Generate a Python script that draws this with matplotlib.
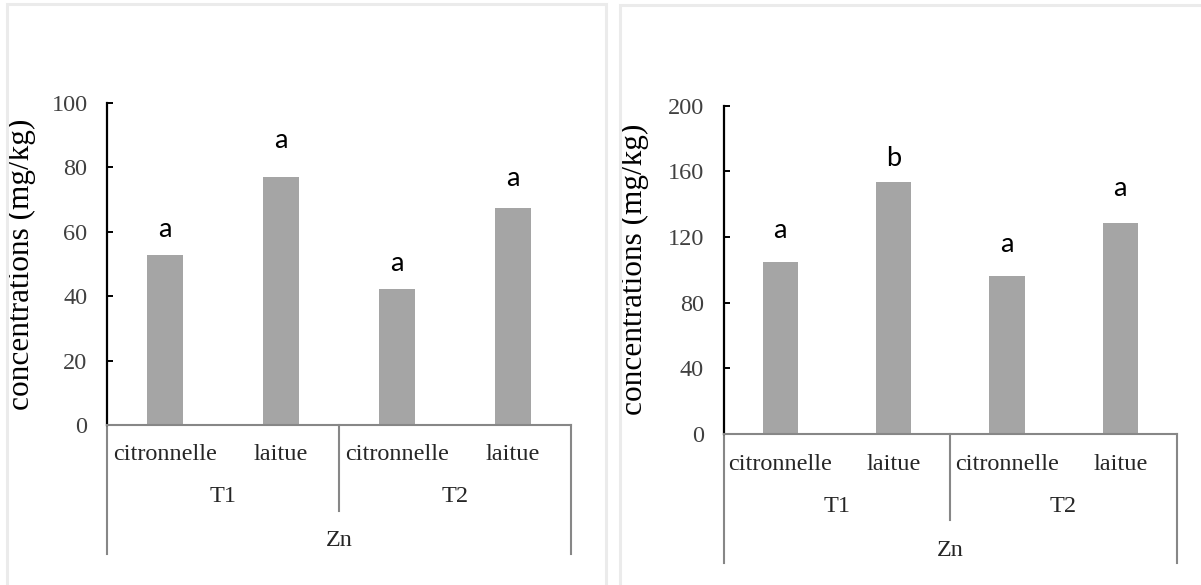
import matplotlib.pyplot as plt
from matplotlib.patches import Rectangle
import matplotlib.transforms as mtransforms

# data
plants = ['citronnelle', 'laitue', 'citronnelle', 'laitue']
treatments = ['T1', 'T2']
metal = 'Zn'

left_values = [52.7, 76.9, 42.3, 67.4]
left_letters = ['a', 'a', 'a', 'a']
left_letter_y = [60.8, 88.5, 50.3, 76.4]
left_ticks = [0, 20, 40, 60, 80, 100]

right_values = [105.0, 153.3, 96.4, 128.6]
right_letters = ['a', 'b', 'a', 'a']
right_letter_y = [123.6, 167.8, 115.6, 149.7]
right_ticks = [0, 40, 80, 120, 160, 200]

W, H = 1201, 585
fig = plt.figure(figsize=(W / 100, H / 100), dpi=100)
fig.patch.set_facecolor('white')

serif = 'Liberation Serif'
sans = ['Lato', 'DejaVu Sans']
grey = '#878787'

# light frames around each chart
for x0, y0, x1 in [(7, 4, 606), (620, 5, 1215)]:
    fig.add_artist(Rectangle((x0 / W, 0 - 0.01), (x1 - x0) / W, 1 - y0 / H + 0.01,
                             transform=fig.transFigure, fill=False,
                             edgecolor='#ebebeb', lw=2.2))


def draw_panel(box, values, letters, letter_y, ticks):
    # box in pixels: left, top, right, bottom (zero line)
    l, t, r, b = box
    ax = fig.add_axes([l / W, 1 - b / H, (r - l) / W, (b - t) / H])
    axh = b - t
    n = len(values)
    x = list(range(n))
    ax.bar(x, values, width=0.31, color='#a5a5a5', zorder=2)
    ax.set_xlim(-0.5, n - 0.5)
    ax.set_ylim(ticks[0], ticks[-1])
    ax.set_yticks(ticks)
    ax.set_xticks([])
    for s in ['top', 'right']:
        ax.spines[s].set_visible(False)
    ax.spines['left'].set_color('black')
    ax.spines['left'].set_linewidth(1.6)
    ax.spines['bottom'].set_color(grey)
    ax.spines['bottom'].set_linewidth(1.5)
    ax.tick_params(axis='y', direction='in', length=4.5, width=1.4, pad=14,
                   labelsize=17.5, labelcolor='#404040')
    for lab in ax.get_yticklabels():
        lab.set_family(serif)
    ax.set_ylabel('concentrations (mg/kg)', family=serif, fontsize=22.5, color='black')
    ax.yaxis.set_label_coords(-0.153 if l < 600 else -0.164, 0.5)

    for xi, letter, ly in zip(x, letters, letter_y):
        ax.text(xi, ly, letter, ha='center', va='center', fontsize=19.5, family=sans)

    # multi-level category axis below the plot
    tr = mtransforms.blended_transform_factory(ax.transData, ax.transAxes)

    def f(px):
        return -px / axh

    for sx in [-0.5, n - 0.5]:
        ax.plot([sx, sx], [0, f(129)], color=grey, lw=1.5, transform=tr, clip_on=False)
    half = n // 2
    ax.plot([half - 0.5, half - 0.5], [0, f(86)], color=grey, lw=1.5, transform=tr,
            clip_on=False)
    for xi, name in zip(x, plants):
        ax.text(xi, f(30), name, transform=tr, ha='center', va='center',
                family=serif, fontsize=17.5, color='#262626')
    for k, tname in enumerate(treatments):
        ax.text(k * half + (half - 1) / 2, f(72), tname, transform=tr, ha='center',
                va='center', family=serif, fontsize=17.5, color='#262626')
    ax.text((n - 1) / 2, f(116), metal, transform=tr, ha='center', va='center',
            family=serif, fontsize=17.5, color='#262626')
    return ax


draw_panel((107, 103, 571, 425), left_values, left_letters, left_letter_y, left_ticks)
draw_panel((723.5, 105.5, 1177, 434), right_values, right_letters, right_letter_y, right_ticks)

fig.savefig('out.png', dpi=100)
